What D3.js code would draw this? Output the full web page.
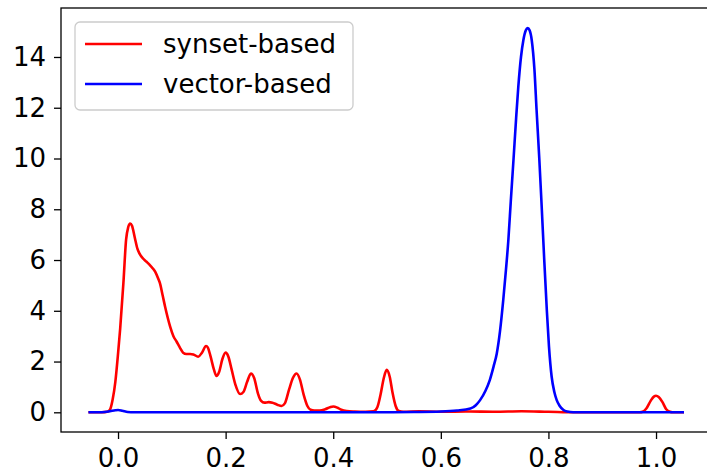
<!DOCTYPE html>
<html>
<head>
<meta charset="utf-8">
<script src="https://cdn.jsdelivr.net/npm/d3@7"></script>
<style>
  html, body { margin: 0; padding: 0; background: #fff; }
  svg { display: block; }
  text { font-family: "DejaVu Sans", sans-serif; fill: #000; }
</style>
</head>
<body>
<svg id="chart" width="707" height="470"></svg>
<script>
// ---- data ----
const seriesNames = ["synset-based", "vector-based"];
const seriesColors = ["#ff0000", "#0000ff"];

const synsetX = [-0.055, -0.03, -0.02, -0.015, -0.01, -0.005, 0.0, 0.004, 0.01, 0.015, 0.019, 0.0225, 0.026, 0.031, 0.036, 0.04, 0.047, 0.053, 0.06, 0.069, 0.075, 0.078, 0.083, 0.0875, 0.097, 0.103, 0.109, 0.115, 0.121, 0.127, 0.134, 0.14, 0.149, 0.156, 0.1636, 0.167, 0.172, 0.178, 0.183, 0.188, 0.194, 0.2, 0.205, 0.211, 0.218, 0.227, 0.233, 0.24, 0.247, 0.253, 0.26, 0.266, 0.272, 0.28, 0.287, 0.296, 0.304, 0.31, 0.318, 0.325, 0.332, 0.338, 0.345, 0.352, 0.358, 0.365, 0.375, 0.385, 0.394, 0.4, 0.408, 0.415, 0.425, 0.44, 0.46, 0.475, 0.482, 0.488, 0.494, 0.4994, 0.505, 0.51, 0.516, 0.522, 0.53, 0.56, 0.6, 0.65, 0.7, 0.75, 0.8, 0.85, 0.9, 0.97, 0.975, 0.982, 0.99, 0.996, 1.0, 1.005, 1.012, 1.019, 1.026, 1.03, 1.052];
const synsetY = [0, 0, 0.02, 0.1, 0.5, 1.2, 2.3, 3.3, 5.1, 6.8, 7.3, 7.44, 7.35, 6.9, 6.45, 6.25, 6.05, 5.93, 5.78, 5.54, 5.25, 5.08, 4.6, 4.16, 3.37, 3.0, 2.78, 2.55, 2.35, 2.3, 2.3, 2.28, 2.19, 2.35, 2.61, 2.55, 2.2, 1.7, 1.43, 1.6, 2.1, 2.35, 2.2, 1.7, 1.1, 0.72, 0.8, 1.2, 1.53, 1.35, 0.75, 0.45, 0.38, 0.4, 0.38, 0.3, 0.25, 0.35, 0.9, 1.35, 1.53, 1.3, 0.7, 0.25, 0.1, 0.07, 0.07, 0.12, 0.2, 0.23, 0.18, 0.1, 0.05, 0.03, 0.02, 0.04, 0.2, 0.7, 1.35, 1.67, 1.4, 0.8, 0.25, 0.05, 0.02, 0.04, 0.02, 0.03, 0.02, 0.04, 0.02, 0, 0, 0, 0.02, 0.15, 0.45, 0.62, 0.65, 0.6, 0.4, 0.12, 0.02, 0, 0];

const vectorX = [-0.055, -0.03, -0.015, -0.005, 0.0, 0.008, 0.018, 0.03, 0.1, 0.2, 0.3, 0.4, 0.5, 0.55, 0.6, 0.63, 0.655, 0.665, 0.673, 0.683, 0.691, 0.698, 0.704, 0.71, 0.716, 0.721, 0.7255, 0.73, 0.735, 0.74, 0.744, 0.749, 0.7534, 0.758, 0.7615, 0.765, 0.769, 0.774, 0.778, 0.783, 0.7875, 0.792, 0.797, 0.801, 0.806, 0.811, 0.8154, 0.821, 0.828, 0.835, 0.846, 1.052];
const vectorY = [0, 0, 0.04, 0.08, 0.09, 0.06, 0.01, 0, 0, 0, 0, 0, 0, 0.01, 0.03, 0.07, 0.15, 0.28, 0.48, 0.85, 1.27, 1.8, 2.32, 3.2, 4.42, 5.6, 6.78, 8.3, 9.93, 11.6, 12.82, 14.0, 14.66, 15.05, 15.14, 15.05, 14.66, 13.5, 11.9, 10.0, 8.09, 6.1, 4.03, 2.6, 1.4, 0.8, 0.48, 0.25, 0.09, 0.03, 0, 0];

const xTicks = [0.0, 0.2, 0.4, 0.6, 0.8, 1.0];
const yTicks = [0, 2, 4, 6, 8, 10, 12, 14];
const xLimits = [-0.106, 1.107];
const yLimits = [-0.776, 15.93];

// ---- layout ----
const svg = d3.select("#chart");
const frame = { left: 61, top: 8, bottom: 432 };
const pxPerX = 538;
const x = d3.scaleLinear()
  .domain(xLimits)
  .range([frame.left, frame.left + (xLimits[1] - xLimits[0]) * pxPerX]);
const y = d3.scaleLinear().domain(yLimits).range([frame.bottom, frame.top]);

const fontSize = 26;

// lines
const line = d3.line().x(d => x(d[0])).y(d => y(d[1])).curve(d3.curveMonotoneX);
const series = [
  d3.zip(synsetX, synsetY),
  d3.zip(vectorX, vectorY)
];
const plot = svg.append("g");
series.forEach((s, i) => {
  plot.append("path")
    .attr("d", line(s))
    .attr("fill", "none")
    .attr("stroke", seriesColors[i])
    .attr("stroke-width", 2.6)
    .attr("stroke-linejoin", "round")
    .attr("stroke-linecap", "butt");
});

// frame
svg.append("rect")
  .attr("x", x(xLimits[0]))
  .attr("y", y(yLimits[1]))
  .attr("width", x(xLimits[1]) - x(xLimits[0]))
  .attr("height", y(yLimits[0]) - y(yLimits[1]))
  .attr("fill", "none")
  .attr("stroke", "#000")
  .attr("stroke-width", 1.3);

// axes
const xAxis = d3.axisBottom(x).tickValues(xTicks).tickFormat(d3.format(".1f"))
  .tickSize(7).tickPadding(9.5);
const yAxis = d3.axisLeft(y).tickValues(yTicks).tickFormat(d3.format("d"))
  .tickSize(7).tickPadding(8);

const gx = svg.append("g").attr("transform", `translate(0,${frame.bottom})`).call(xAxis);
const gy = svg.append("g").attr("transform", `translate(${frame.left},0)`).call(yAxis);
[gx, gy].forEach(g => {
  g.select(".domain").remove();
  g.selectAll(".tick line").attr("stroke", "#000").attr("stroke-width", 1.3);
  g.selectAll(".tick text")
    .attr("fill", "#000")
    .style("font-family", "'DejaVu Sans', sans-serif")
    .style("font-size", fontSize + "px");
});

// legend
const legend = svg.append("g");
legend.append("rect")
  .attr("x", 75).attr("y", 22)
  .attr("width", 278).attr("height", 88)
  .attr("rx", 5).attr("ry", 5)
  .attr("fill", "#fff").attr("fill-opacity", 0.8)
  .attr("stroke", "#cccccc").attr("stroke-width", 1.3);
const legendRowY = [44, 84];
seriesNames.forEach((name, i) => {
  legend.append("line")
    .attr("x1", 85).attr("x2", 142)
    .attr("y1", legendRowY[i]).attr("y2", legendRowY[i])
    .attr("stroke", seriesColors[i]).attr("stroke-width", 2.6);
  legend.append("text")
    .attr("x", 163).attr("y", legendRowY[i])
    .attr("dy", "0.35em")
    .style("font-size", fontSize + "px")
    .text(name);
});
</script>
</body>
</html>
